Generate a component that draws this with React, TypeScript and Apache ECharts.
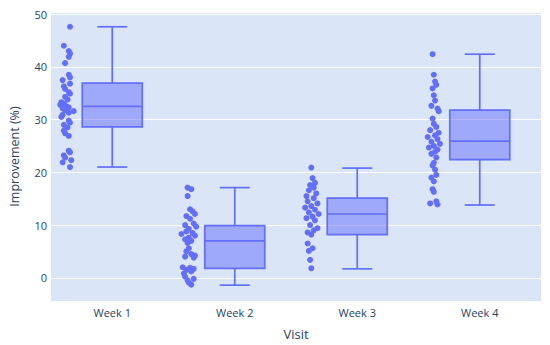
import React, { useEffect, useRef } from "react";
import * as echarts from "echarts";

const categories = ["Week 1", "Week 2", "Week 3", "Week 4"];

// [lower whisker, Q1, median, Q3, upper whisker]
const boxStats = [
  [21.0, 28.6, 32.5, 36.9, 47.6],
  [-1.4, 1.8, 7.0, 9.9, 17.1],
  [1.7, 8.2, 12.1, 15.1, 20.8],
  [13.8, 22.4, 25.9, 31.8, 42.4],
];

const week1Values = [47.6, 44.0, 43.0, 42.5, 41.9, 40.7, 38.5, 38.0, 37.5, 36.8, 36.3, 35.8, 35.2, 34.9, 34.3, 33.8, 33.3, 33.0, 32.8, 32.5, 32.3, 32.1, 31.8, 31.6, 31.3, 30.9, 30.5, 29.8, 29.4, 29.0, 28.5, 27.9, 27.4, 26.9, 24.1, 23.8, 23.2, 22.8, 22.3, 21.9, 21.0];
const week1Jitter = [0.03, -0.02, 0.02, 0.03, 0.02, -0.01, 0.02, 0.03, -0.03, 0.03, -0.02, -0.01, 0.02, 0.03, -0.01, 0.01, -0.04, -0.02, -0.05, 0.0, 0.02, -0.03, -0.01, 0.06, 0.02, -0.03, -0.04, 0.02, 0.03, -0.02, 0.01, -0.02, -0.01, 0.02, 0.02, 0.03, -0.02, -0.01, 0.04, -0.03, 0.03];

const week2Values = [17.1, 16.8, 15.5, 13.0, 12.6, 12.1, 11.7, 11.2, 10.3, 10.0, 9.7, 9.3, 8.8, 8.5, 8.3, 8.0, 7.6, 7.3, 7.0, 6.6, 5.6, 5.0, 4.5, 4.2, 4.0, 3.8, 2.0, 1.9, 1.7, 1.5, 1.2, 0.8, 0.2, -0.2, -0.5, -0.9, -1.3];
const week2Jitter = [-0.01, 0.02, -0.01, 0.01, 0.03, 0.05, -0.02, 0.01, 0.04, -0.03, 0.06, 0.0, -0.02, 0.03, -0.06, 0.05, 0.0, -0.03, 0.02, -0.01, 0.0, -0.02, 0.02, 0.05, -0.03, 0.04, -0.05, 0.01, 0.04, -0.02, 0.02, -0.04, -0.03, 0.04, -0.01, 0.0, 0.02];

const week3Values = [20.9, 18.9, 18.0, 17.6, 17.1, 16.6, 16.0, 15.5, 15.1, 14.5, 14.1, 13.6, 13.3, 12.9, 12.4, 12.1, 11.6, 11.3, 10.9, 10.0, 9.4, 9.0, 8.6, 8.2, 6.5, 5.6, 5.1, 3.4, 1.8];
const week3Jitter = [0.0, 0.01, 0.03, -0.01, 0.02, -0.02, 0.04, -0.04, 0.02, -0.03, 0.05, 0.0, -0.05, 0.03, -0.02, 0.06, 0.01, -0.04, 0.03, -0.01, 0.05, 0.02, -0.03, 0.0, -0.03, 0.01, -0.02, -0.01, 0.0];

const week4Values = [42.4, 38.5, 37.2, 36.6, 35.9, 34.6, 33.6, 32.6, 32.1, 31.6, 30.2, 29.2, 28.6, 28.0, 27.5, 27.0, 26.7, 26.3, 25.8, 25.4, 25.0, 24.7, 24.3, 23.9, 23.5, 22.8, 21.8, 21.3, 20.5, 19.5, 19.0, 18.3, 16.8, 16.3, 14.5, 14.1, 13.9];
const week4Jitter = [-0.01, 0.0, 0.01, 0.02, -0.01, 0.0, 0.01, -0.02, 0.03, 0.04, -0.01, 0.0, 0.02, -0.03, 0.04, 0.01, -0.05, 0.03, -0.02, 0.05, 0.0, -0.04, 0.03, 0.01, -0.02, 0.02, 0.0, -0.01, 0.01, 0.02, -0.02, 0.0, -0.01, 0.0, 0.02, -0.03, 0.03];

const pointValues = [week1Values, week2Values, week3Values, week4Values];
const pointJitter = [week1Jitter, week2Jitter, week3Jitter, week4Jitter];

const POINT_POS = -0.375;
const MAIN = "#636efa";
const FONT = '"Open Sans", verdana, arial, sans-serif';
const TEXT = "#2a3f5f";

export default function App() {
  const ref = useRef<HTMLDivElement>(null);
  useEffect(() => {
    if (!ref.current) return;
    const chart = echarts.init(ref.current, null, { renderer: "svg" });

    const boxData = boxStats.map((s, i) => [i, ...s]);
    const scatterData: number[][] = [];
    pointValues.forEach((vals, i) => {
      vals.forEach((v, j) => {
        scatterData.push([i + POINT_POS + (pointJitter[i][j] ?? 0), v]);
      });
    });

    chart.setOption({
      animation: false,
      backgroundColor: "#ffffff",
      grid: {
        left: 50,
        right: 9,
        top: 12,
        bottom: 44,
        show: true,
        backgroundColor: "#dbe5f8",
        borderWidth: 0,
      },
      xAxis: [
        {
          type: "category",
          data: categories,
          boundaryGap: true,
          axisLine: { show: false },
          axisTick: { show: false },
          splitLine: { show: false },
          axisLabel: { color: TEXT, fontSize: 11, fontFamily: FONT, margin: 6 },
          name: "Visit",
          nameLocation: "middle",
          nameGap: 26,
          nameTextStyle: { color: TEXT, fontSize: 13, fontFamily: FONT },
        },
        {
          type: "value",
          min: -0.5,
          max: 3.5,
          show: false,
        },
      ],
      yAxis: {
        type: "value",
        min: -4.4,
        max: 50.4,
        splitNumber: 5,
        axisLine: { show: false },
        axisTick: { show: false },
        splitLine: { show: true, lineStyle: { color: "#ffffff", width: 1 } },
        axisLabel: {
          color: TEXT,
          fontSize: 11,
          fontFamily: FONT,
          margin: 4,
          showMinLabel: false,
          showMaxLabel: false,
        },
        name: "Improvement (%)",
        nameLocation: "middle",
        nameGap: 30,
        nameTextStyle: { color: TEXT, fontSize: 12.5, fontFamily: FONT },
      },
      series: [
        {
          type: "custom",
          xAxisIndex: 0,
          data: boxData,
          renderItem: (params: any, api: any) => {
            const x = api.value(0);
            const low = api.coord([x, api.value(1)]);
            const q1 = api.coord([x, api.value(2)]);
            const med = api.coord([x, api.value(3)]);
            const q3 = api.coord([x, api.value(4)]);
            const high = api.coord([x, api.value(5)]);
            const band = api.size([1, 0])[0];
            const w = band * 0.49;
            const cw = w / 2;
            const cx = low[0];
            const ls = { stroke: MAIN, lineWidth: 1.7, fill: null };
            return {
              type: "group",
              children: [
                {
                  type: "rect",
                  shape: { x: cx - w / 2, y: q3[1], width: w, height: q1[1] - q3[1] },
                  style: { fill: "rgba(99,110,250,0.5)", stroke: MAIN, lineWidth: 1.7 },
                },
                { type: "line", shape: { x1: cx - w / 2, y1: med[1], x2: cx + w / 2, y2: med[1] }, style: ls },
                { type: "line", shape: { x1: cx, y1: q3[1], x2: cx, y2: high[1] }, style: ls },
                { type: "line", shape: { x1: cx, y1: q1[1], x2: cx, y2: low[1] }, style: ls },
                { type: "line", shape: { x1: cx - cw / 2, y1: high[1], x2: cx + cw / 2, y2: high[1] }, style: ls },
                { type: "line", shape: { x1: cx - cw / 2, y1: low[1], x2: cx + cw / 2, y2: low[1] }, style: ls },
              ],
            };
          },
        },
        {
          type: "scatter",
          xAxisIndex: 1,
          data: scatterData,
          symbol: "circle",
          symbolSize: 6,
          itemStyle: { color: MAIN, opacity: 1 },
        },
      ],
    });
    return () => chart.dispose();
  }, []);
  return (
    <div
      ref={ref}
      style={{ position: "fixed", left: 0, top: 0, width: 550, height: 345 }}
    />
  );
}
